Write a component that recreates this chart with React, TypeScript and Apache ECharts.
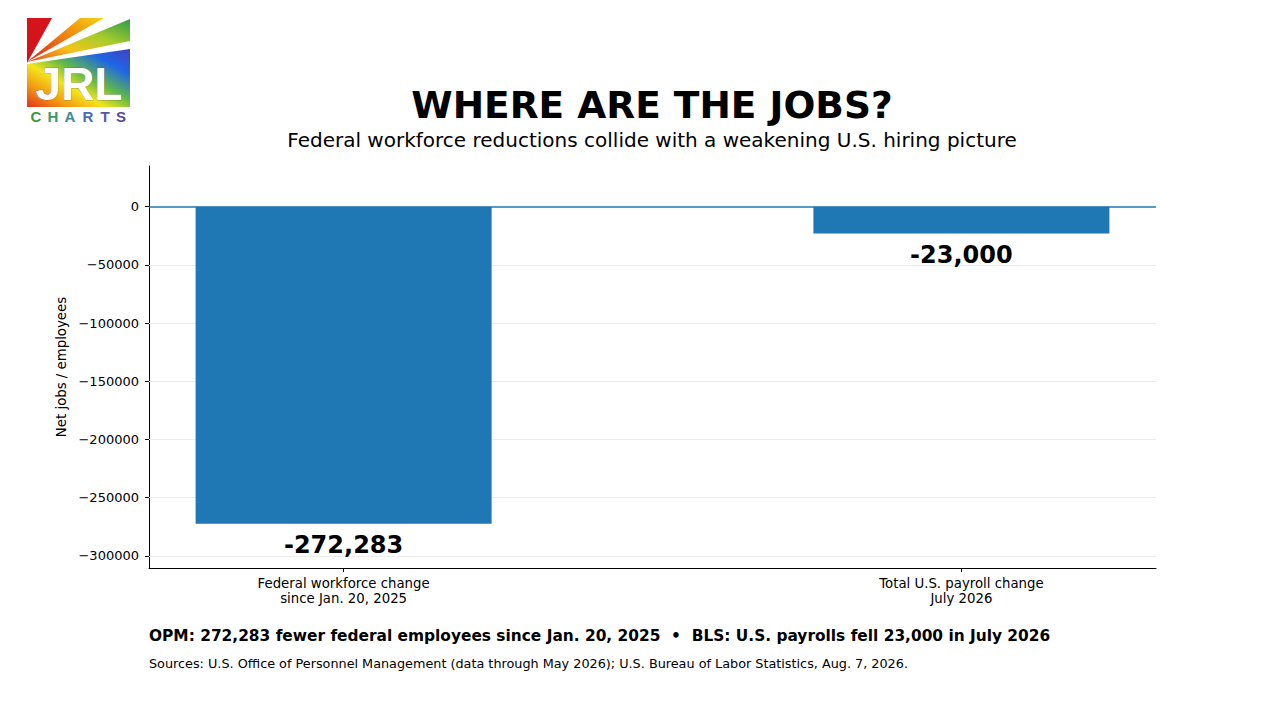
import React, { useEffect, useRef } from "react";
import * as echarts from "echarts";

const categories = [
  "Federal workforce change\nsince Jan. 20, 2025",
  "Total U.S. payroll change\nJuly 2026",
];
const values = [-272283, -23000];
const yTicks = [-300000, -250000, -200000, -150000, -100000, -50000, 0];
const xTicks = [0, 1];

const titleText = "WHERE ARE THE JOBS?";
const subtitleText =
  "Federal workforce reductions collide with a weakening U.S. hiring picture";
const noteText =
  "OPM: 272,283 fewer federal employees since Jan. 20, 2025  \u2022  BLS: U.S. payrolls fell 23,000 in July 2026";
const sourceText =
  "Sources: U.S. Office of Personnel Management (data through May 2026); U.S. Bureau of Labor Statistics, Aug. 7, 2026.";
const yAxisName = "Net jobs / employees";

const FONT = "DejaVu Sans";
const LOGO_FONT = "Liberation Sans";

const chartsLetters = ["C", "H", "A", "R", "T", "S"];
const chartsColors = ["#3d9a3c", "#3a9a6a", "#3a8b98", "#456fae", "#5657a8", "#5a469e"];
const chartsX = [36, 53, 70, 88, 105, 121];

function logo() {
  const O: [number, number] = [27, 63];
  return {
    type: "group",
    children: [
      {
        type: "polygon",
        shape: { points: [O, [27, 18], [52, 18]] },
        style: { fill: "#d6131b" },
      },
      {
        type: "polygon",
        shape: { points: [[27, 62], [80, 18], [104, 18]] },
        style: {
          fill: new echarts.graphic.LinearGradient(0, 1, 1, 0, [
            { offset: 0, color: "#d8201a" },
            { offset: 0.5, color: "#f07a10" },
            { offset: 1, color: "#f6d210" },
          ]),
        },
      },
      {
        type: "polygon",
        shape: { points: [[27, 62], [130, 19], [130, 41]] },
        style: {
          fill: new echarts.graphic.LinearGradient(0, 1, 1, 0, [
            { offset: 0, color: "#e2401a" },
            { offset: 0.35, color: "#f4c418" },
            { offset: 0.65, color: "#a4cc2c" },
            { offset: 1, color: "#2e9a48" },
          ]),
        },
      },
      {
        type: "polygon",
        shape: { points: [[27, 64], [130, 49], [130, 107], [27, 107]] },
        style: {
          fill: new echarts.graphic.LinearGradient(0, 1, 1, 0, [
            { offset: 0, color: "#e3301c" },
            { offset: 0.2, color: "#f29a10" },
            { offset: 0.38, color: "#f4e41c" },
            { offset: 0.55, color: "#62bb44" },
            { offset: 0.78, color: "#1f66e4" },
            { offset: 1, color: "#3f40c0" },
          ]),
        },
      },
      {
        type: "text",
        x: 79,
        y: 84,
        style: {
          text: "JRL",
          fontFamily: LOGO_FONT,
          fontWeight: "bold",
          fontSize: 46,
          lineHeight: 36,
          fill: "#ffffff",
          align: "center",
          verticalAlign: "middle",
          stroke: "rgba(60,60,90,0.35)",
          lineWidth: 1,
        },
      },
      ...chartsLetters.map((ch, i) => ({
        type: "text",
        x: chartsX[i],
        y: 116,
        style: {
          text: ch,
          fontFamily: LOGO_FONT,
          fontWeight: "bold",
          fontSize: 15,
          lineHeight: 14,
          fill: chartsColors[i],
          align: "center",
          verticalAlign: "middle",
        },
      })),
    ],
  };
}

function fmtTick(v: number) {
  if (v < 0) return "\u2212" + String(Math.abs(v));
  return String(v);
}

export default function App() {
  const ref = useRef<HTMLDivElement>(null);
  useEffect(() => {
    if (!ref.current) return;
    const chart = echarts.init(ref.current, undefined, { renderer: "svg" });
    chart.setOption({
      animation: false,
      backgroundColor: "#ffffff",
      textStyle: { fontFamily: FONT },
      grid: { left: 149, top: 166, width: 1007, height: 402, containLabel: false },
      xAxis: {
        type: "value",
        min: -0.315,
        max: 1.315,
        axisLine: { show: true, onZero: false, lineStyle: { color: "#000", width: 1 } },
        axisTick: { show: true, customValues: xTicks, length: 4, lineStyle: { color: "#000" } },
        axisLabel: {
          customValues: xTicks,
          formatter: (v: number) => categories[Math.round(v)] ?? "",
          fontFamily: FONT,
          fontSize: 13.3,
          lineHeight: 15,
          color: "#000",
          margin: 8,
        },
        splitLine: { show: false },
      },
      yAxis: {
        type: "value",
        min: -310400,
        max: 35000,
        name: yAxisName,
        nameLocation: "middle",
        nameRotate: 90,
        nameGap: 78,
        nameTextStyle: { fontFamily: FONT, fontSize: 13.3, color: "#000" },
        axisLine: { show: true, onZero: false, lineStyle: { color: "#000", width: 1 } },
        axisTick: { show: true, customValues: yTicks, length: 4, lineStyle: { color: "#000" } },
        axisLabel: {
          customValues: yTicks,
          formatter: fmtTick,
          fontFamily: FONT,
          fontSize: 13,
          color: "#000",
          margin: 10,
        },
        splitLine: { show: false },
      },
      series: [
        {
          type: "line",
          data: [],
          z: 1,
          markLine: {
            silent: true,
            z: 1,
            symbol: ["none", "none"],
            label: { show: false },
            lineStyle: { color: "#ececec", width: 1, type: "solid" },
            data: yTicks.filter((v) => v !== 0).map((v) => ({ yAxis: v })),
          },
        },
        {
          type: "bar",
          z: 2,
          barWidth: 296,
          data: values.map((v, i) => [i, v]),
          itemStyle: { color: "#1f77b4" },
          label: {
            show: true,
            position: "bottom",
            distance: 9,
            formatter: (p: any) => Number(p.value[1]).toLocaleString("en-US"),
            fontFamily: FONT,
            fontWeight: "bold",
            fontSize: 24,
            color: "#000",
          },
          markLine: {
            silent: true,
            symbol: ["none", "none"],
            label: { show: false },
            lineStyle: { color: "#1f77b4", width: 1.5, type: "solid" },
            data: [{ yAxis: 0 }],
          },
        },
      ],
      graphic: [
        logo(),
        {
          type: "text",
          x: 652,
          y: 105,
          style: {
            text: titleText,
            fontFamily: FONT,
            fontWeight: "bold",
            fontSize: 37.5,
            fill: "#000",
            align: "center",
            verticalAlign: "middle",
          },
        },
        {
          type: "text",
          x: 652,
          y: 140,
          style: {
            text: subtitleText,
            fontFamily: FONT,
            fontSize: 20,
            fill: "#000",
            align: "center",
            verticalAlign: "middle",
          },
        },
        {
          type: "text",
          x: 149,
          y: 636,
          style: {
            text: noteText,
            fontFamily: FONT,
            fontWeight: "bold",
            fontSize: 15.4,
            fill: "#000",
            align: "left",
            verticalAlign: "middle",
          },
        },
        {
          type: "text",
          x: 149,
          y: 663,
          style: {
            text: sourceText,
            fontFamily: FONT,
            fontSize: 12.8,
            fill: "#000",
            align: "left",
            verticalAlign: "middle",
          },
        },
      ],
    });
    return () => chart.dispose();
  }, []);
  return (
    <div
      ref={ref}
      style={{ position: "fixed", left: 0, top: 0, width: 1280, height: 720 }}
    />
  );
}
